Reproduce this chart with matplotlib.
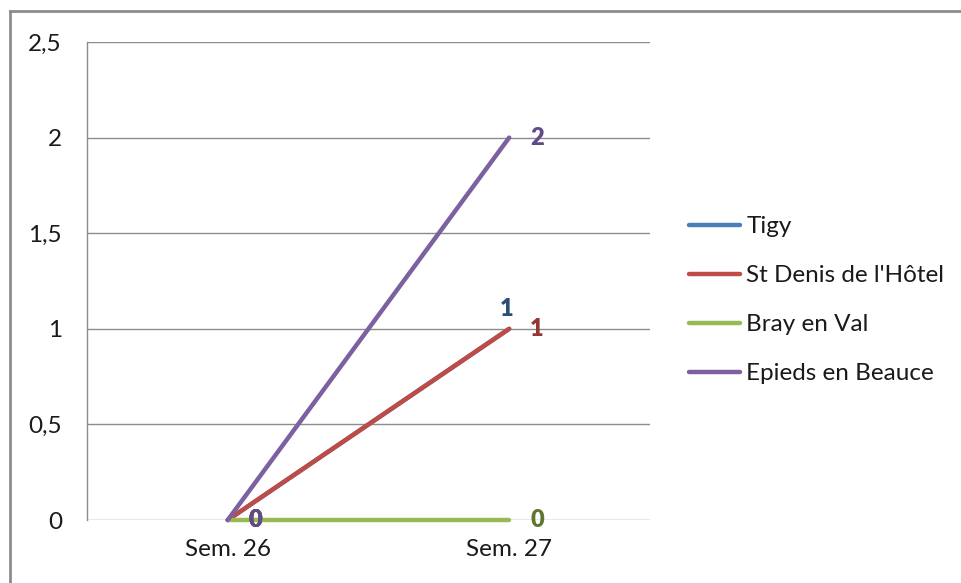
import matplotlib.pyplot as plt
from matplotlib.lines import Line2D

# weekly counts per commune
weeks = ['Sem. 26', 'Sem. 27']
series_names = ['Tigy', "St Denis de l'Hôtel", 'Bray en Val', 'Epieds en Beauce']
tigy = [0, 1]
st_denis = [0, 1]
bray = [0, 0]
epieds = [0, 2]
yticks = [0, 0.5, 1, 1.5, 2, 2.5]
ytick_labels = ['0', '0,5', '1', '1,5', '2', '2,5']

line_colors = ['#4A7EBB', '#BE4B48', '#98B954', '#7D60A0']
label_colors = ['#2C4D75', '#943634', '#5F7530', '#5F4B8B']

plt.rcParams['font.family'] = ['Lato', 'DejaVu Sans']

fig = plt.figure(figsize=(9.61, 5.83), dpi=100)
ax = fig.add_axes([0.0905, 0.108, 0.5858, 0.82])

x = list(range(len(weeks)))
all_series = [tigy, st_denis, bray, epieds]
for vals, name, col in zip(all_series, series_names, line_colors):
    ax.plot(x, vals, color=col, lw=3.2, solid_capstyle='round', label=name,
            zorder=3, clip_on=False)

# data labels: Tigy sits above its last point, the others to the right
for i, (vals, lcol) in enumerate(zip(all_series, label_colors)):
    for xi, v in zip(x, vals):
        if i == 0 and xi == 1:
            off, ha, va = (-2, 6), 'center', 'bottom'
        else:
            off, ha, va = (15, 0), 'left', 'center'
        ax.annotate(f'{v}', (xi, v), xytext=off, textcoords='offset points',
                    ha=ha, va=va, fontsize=17, fontweight='heavy', color=lcol,
                    zorder=4, annotation_clip=False)

ax.set_xlim(-0.5, 1.5)
ax.set_ylim(0, 2.5)
ax.set_yticks(yticks)
ax.set_yticklabels(ytick_labels)
ax.set_xticks(x)
ax.set_xticklabels(weeks)
ax.tick_params(axis='y', length=0, pad=18, labelsize=17.5, colors='#1a1a1a')
ax.tick_params(axis='x', length=0, pad=14, labelsize=17.5, colors='#1a1a1a')
ax.yaxis.grid(True, color='#8c8c8c', lw=1)
ax.set_axisbelow(True)
for s in ['top', 'right', 'bottom']:
    ax.spines[s].set_visible(False)
ax.spines['left'].set_color('#8c8c8c')
ax.spines['left'].set_linewidth(1)

handles = [Line2D([], [], color=c, lw=3.2, solid_capstyle='round') for c in line_colors]
fig.legend(handles, series_names, loc='center left', bbox_to_anchor=(0.707, 0.485),
           frameon=False, fontsize=17.5, handlelength=2.1, handletextpad=0.25,
           labelspacing=1.15, borderaxespad=0, labelcolor='#1a1a1a')

# outer chart frame
fig.add_artist(Line2D([0.0105, 1.0], [0.981, 0.981], color='#8c8c8c', lw=2,
                      transform=fig.transFigure))
fig.add_artist(Line2D([0.0105, 0.0105], [0.0, 0.981], color='#8c8c8c', lw=2,
                      transform=fig.transFigure))

fig.savefig('out.png', dpi=100)
